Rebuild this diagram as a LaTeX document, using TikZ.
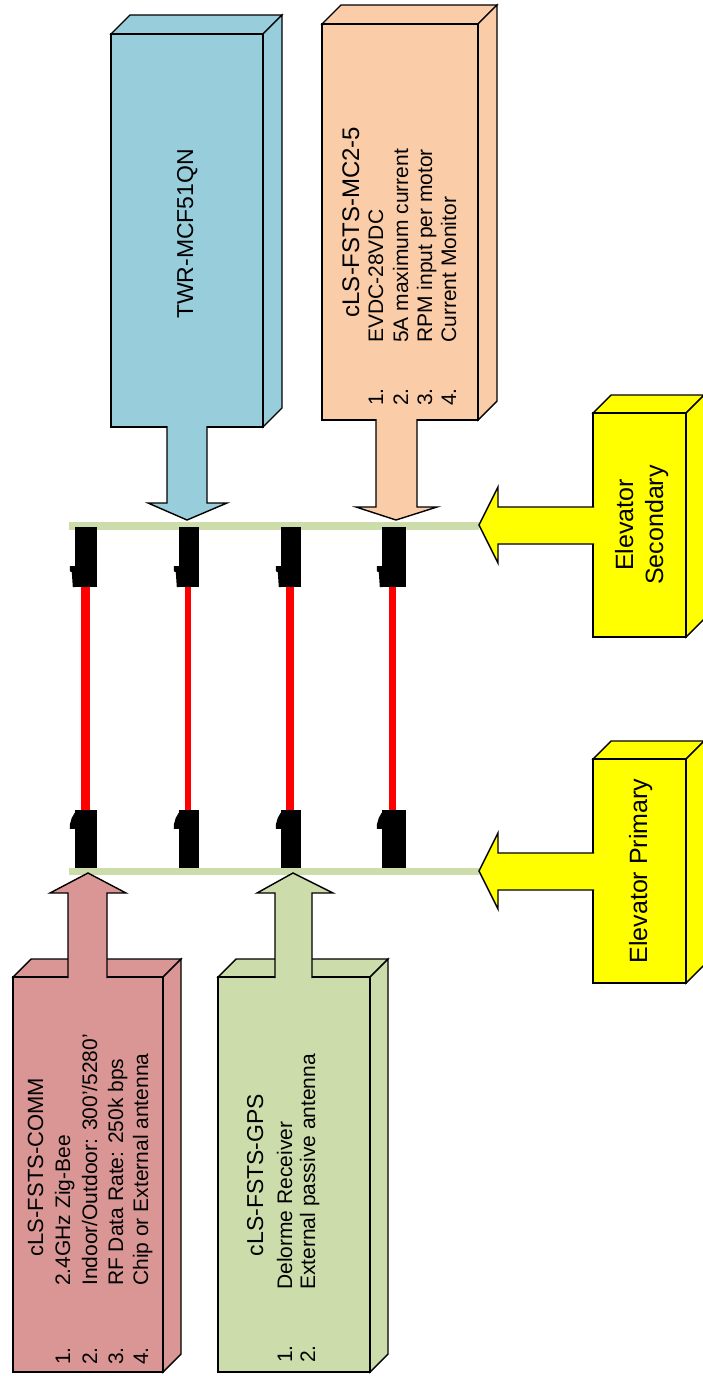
\documentclass[tikz,border=0pt]{standalone}
\usepackage{fontspec}
\setmainfont{Liberation Sans}
\definecolor{cblue}{RGB}{152,206,220}
\definecolor{corange}{RGB}{250,204,168}
\definecolor{cpink}{RGB}{217,150,148}
\definecolor{cgreen}{RGB}{204,220,170}
\definecolor{cyel}{RGB}{255,255,0}
\newcommand\tdbox[6]{%
  \filldraw[boxline, fill=#1] (#2,#3) -- ++(#6,-#6) -- (#4+#6,#3-#6) -- (#4,#3) -- cycle;
  \filldraw[boxline, fill=#1] (#4,#3) -- (#4+#6,#3-#6) -- (#4+#6,#5-#6) -- (#4,#5) -- cycle;
  \filldraw[boxline, fill=#1] (#2,#3) rectangle (#4,#5);
}
\begin{document}
\begin{tikzpicture}[x=1pt,y=-1pt,
  boxline/.style={draw=black, line width=1.4pt, line join=miter},
  conn/.style={rectangle, fill=black, draw=none, inner sep=0pt, minimum height=#1},
  wire/.style={draw=red, line width=#1},
  itm/.style={rotate=90, anchor=base west, inner sep=0pt, font=\fontsize{21}{21}\selectfont},
  ttl/.style={rotate=90, anchor=base, inner sep=0pt, font=\fontsize{#1}{#1}\selectfont}]
\useasboundingbox (0,0) rectangle (702,1376);

% buses
\fill[cgreen] (69,522) rectangle (479,530);
\fill[cgreen] (69,868) rectangle (479,875);

% connectors
\node[conn=60pt, minimum width=22pt] (t1) at (86,557) {};
\node[conn=60pt, minimum width=20pt] (t2) at (189,557) {};
\node[conn=60pt, minimum width=20pt] (t3) at (291,557) {};
\node[conn=60pt, minimum width=24pt] (t4) at (394,557) {};
\node[conn=58pt, minimum width=22pt] (b1) at (86,839) {};
\node[conn=58pt, minimum width=20pt] (b2) at (189,839) {};
\node[conn=58pt, minimum width=20pt] (b3) at (291,839) {};
\node[conn=58pt, minimum width=24pt] (b4) at (394,839) {};
\foreach \n in {t1,t2,t3,t4}{
  \fill[shift={(\n.south west)}] (0.5,-21) -- (-5,-21) -- (-5,-16) -- (-3,-15) -- (-2,0) -- (0.5,0) -- cycle;
}
\foreach \n in {b1,b2,b3,b4}{
  \fill[shift={(\n.north west)}] (0.5,2) -- (-3,8) -- (-5,15) -- (-5,19) -- (0.5,19) -- cycle;
}
\draw[wire=9pt] ([xshift=-0.5pt]t1.south) -- ([xshift=-0.5pt]b1.north);
\draw[wire=6pt] ([xshift=-1pt]t2.south) -- ([xshift=-1pt]b2.north);
\draw[wire=8pt] ([xshift=-1pt]t3.south) -- ([xshift=-1pt]b3.north);
\draw[wire=7pt] ([xshift=-1.5pt]t4.south) -- ([xshift=-1.5pt]b4.north);

% TWR box
\tdbox{cblue}{111}{34}{263}{427}{19}
\path[boxline, fill=cblue] (167,426) -- (167,503) -- (148,503) -- (187,520) -- (227,503) -- (207,503) -- (207,426);
\node[ttl=23] (twr) at (193,234) {TWR-MCF51QN};

% MC2-5 box
\tdbox{corange}{322}{24}{478}{420}{19}
\path[boxline, fill=corange] (376,419) -- (376,507) -- (356,507) -- (396,520) -- (437,507) -- (417,507) -- (417,419);
\node[ttl=24] (mct) at (359,222) {cLS-FSTS-MC2-5};
\node[itm] (mc1) at (383,343) {EVDC-28VDC};
\node[itm] (mc2) at (408,343) {5A maximum current};
\node[itm] (mc3) at (432,343) {RPM input per motor};
\node[itm] (mc4) at (456,343) {Current Monitor};
\node[itm] (mn1) at (383,406) {1.};
\node[itm] (mn2) at (408,406) {2.};
\node[itm] (mn3) at (432,406) {3.};
\node[itm] (mn4) at (456,406) {4.};

% Elevator Secondary
\tdbox{cyel}{593}{413}{686}{637}{18}
\path[boxline, fill=cyel] (594,507) -- (498,507) -- (498,487) -- (479,525) -- (498,563) -- (498,544) -- (594,544);
\node[ttl=25] (es1) at (633,525) {Elevator};
\node[ttl=25] (es2) at (663,525) {Secondary};

% Elevator Primary
\tdbox{cyel}{593}{759}{686}{983}{18}
\path[boxline, fill=cyel] (594,853) -- (498,853) -- (498,833) -- (479,871) -- (498,909) -- (498,890) -- (594,890);
\node[ttl=25] (ep) at (647,871) {Elevator Primary};

% COMM box
\tdbox{cpink}{13}{977}{163}{1372}{18}
\path[boxline, fill=cpink] (68,978) -- (68,893) -- (50,893) -- (88,873) -- (126,893) -- (107,893) -- (107,978);
\node[ttl=22] (cmt) at (43,1167) {cLS-FSTS-COMM};
\node[itm] (cm1) at (70,1286) {2.4GHz Zig-Bee};
\node[itm] (cm2) at (97,1286) {Indoor/Outdoor: 300'/5280'};
\node[itm] (cm3) at (123,1286) {RF Data Rate: 250k bps};
\node[itm] (cm4) at (148,1286) {Chip or External antenna};
\node[itm] (cn1) at (70,1365) {1.};
\node[itm] (cn2) at (97,1365) {2.};
\node[itm] (cn3) at (123,1365) {3.};
\node[itm] (cn4) at (148,1365) {4.};

% GPS box
\tdbox{cgreen}{218}{977}{370}{1372}{18}
\path[boxline, fill=cgreen] (275,978) -- (275,893) -- (257,893) -- (293,873) -- (333,893) -- (312,893) -- (312,978);
\node[ttl=23] (gpt) at (263,1175) {cLS-FSTS-GPS};
\node[itm] (gp1) at (292,1290) {Delorme Receiver};
\node[itm] (gp2) at (315,1290) {External passive antenna};
\node[itm] (gn1) at (292,1363) {1.};
\node[itm] (gn2) at (315,1363) {2.};
\end{tikzpicture}
\end{document}
